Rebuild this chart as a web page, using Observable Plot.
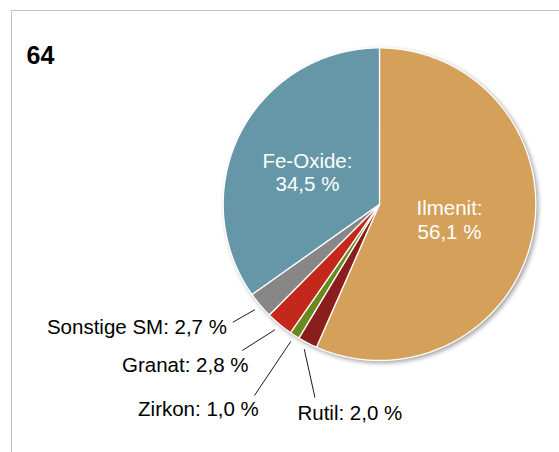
<!DOCTYPE html>
<html>
<head>
<meta charset="utf-8">
<script src="https://cdn.jsdelivr.net/npm/d3@7"></script>
<script src="https://cdn.jsdelivr.net/npm/@observablehq/plot@0.6"></script>
<style>
  html, body { margin: 0; padding: 0; background: #fff; }
  #wrap { position: relative; width: 559px; height: 452px; overflow: hidden; }
  #frame { position: absolute; left: 11px; top: 10px; width: 600px; height: 500px;
           border-top: 1.5px solid #c3c3c3; border-left: 1.5px solid #c3c3c3; }
  #chart { position: absolute; left: 0; top: 0; }
</style>
</head>
<body>
<div id="wrap"><div id="frame"></div><div id="chart"></div></div>
<script>
// ---- data ----
const chartTitle = "64";
const minerals = ["Ilmenit", "Rutil", "Zirkon", "Granat", "Sonstige SM", "Fe-Oxide"];
const shares = [56.1, 2.0, 1.0, 2.8, 2.7, 34.5];
const sliceColors = ["#d4a05a", "#8a1e1c", "#6b8a1e", "#c4281a", "#878787", "#6597a8"];
const insideLabels = ["Ilmenit", "Fe-Oxide"];

// ---- label layout (unit-circle coordinates, radius = 1) ----
const labelPos = {
  "Ilmenit":     {x: 0.448,  y: -0.098},
  "Fe-Oxide":    {x: -0.461, y: 0.204},
  "Sonstige SM": {x: -0.976, y: -0.789, anchor: "end",   lx: -0.938, ly: -0.755},
  "Granat":      {x: -0.838, y: -1.032, anchor: "end",   lx: -0.878, ly: -0.936},
  "Zirkon":      {x: -0.772, y: -1.310, anchor: "end",   lx: -0.800, ly: -1.224},
  "Rutil":       {x: -0.525, y: -1.339, anchor: "start", lx: -0.413, ly: -1.237}
};

const fmt = v => v.toFixed(1).replace(".", ",") + " %";
const total = d3.sum(shares);
let cum = 0;
const slices = minerals.map((name, i) => {
  const a0 = cum / total * 2 * Math.PI;
  cum += shares[i];
  const a1 = cum / total * 2 * Math.PI;
  return {name, value: shares[i], a0, a1, mid: (a0 + a1) / 2};
});

// polygon points of each slice (angle measured clockwise from 12 o'clock)
const pts = [];
for (const s of slices) {
  pts.push({name: s.name, x: 0, y: 0});
  const n = Math.max(2, Math.ceil((s.a1 - s.a0) / (Math.PI / 720)));
  for (let k = 0; k <= n; k++) {
    const a = s.a0 + (s.a1 - s.a0) * k / n;
    pts.push({name: s.name, x: Math.sin(a), y: Math.cos(a)});
  }
  pts.push({name: s.name, x: 0, y: 0});
}

const inside = slices.filter(s => insideLabels.includes(s.name)).map(s => ({
  ...s, lx: labelPos[s.name].x, ly: labelPos[s.name].y,
  text: s.name + ":\n" + fmt(s.value)
}));
const outside = slices.filter(s => !insideLabels.includes(s.name)).map(s => {
  const p = labelPos[s.name];
  return {...s, tx: p.x, ty: p.y, anchor: p.anchor,
    x1: 1.045 * Math.sin(s.mid), y1: 1.045 * Math.cos(s.mid), x2: p.lx, y2: p.ly,
    text: s.name + ": " + fmt(s.value)};
});

const cx = 379, cy = 203.7, R = 156.3;
const font = "'Liberation Sans', Arial, Helvetica, sans-serif";

const plot = Plot.plot({
  width: 559,
  height: 452,
  margin: 0,
  style: {background: "transparent", fontFamily: font, overflow: "visible"},
  x: {domain: [-1, 1], range: [cx - R, cx + R], axis: null},
  y: {domain: [-1, 1], range: [cy + R, cy - R], axis: null},
  color: {domain: minerals, range: sliceColors},
  marks: [
    Plot.line(pts, {x: "x", y: "y", z: "name", fill: "name", stroke: "white",
      strokeWidth: 1.3, strokeLinejoin: "round", curve: "linear"}),
    Plot.link(outside, {x1: "x1", y1: "y1", x2: "x2", y2: "y2", stroke: "#000", strokeWidth: 0.9}),
    Plot.text(inside, {x: "lx", y: "ly", text: "text", fill: "white", fontSize: 20.5,
      lineHeight: 1.14, textAnchor: "middle"}),
    Plot.text(outside.filter(d => d.anchor === "end"), {x: "tx", y: "ty", text: "text",
      fill: "#000", fontSize: 20.5, textAnchor: "end"}),
    Plot.text(outside.filter(d => d.anchor === "start"), {x: "tx", y: "ty", text: "text",
      fill: "#000", fontSize: 20.5, textAnchor: "start"}),
    Plot.text([chartTitle], {frameAnchor: "top-left", dx: 26, dy: 46, lineAnchor: "top",
      textAnchor: "start", fontSize: 25, fontWeight: "bold", fill: "#000"})
  ]
});

d3.select(plot).select('g[aria-label="line"]')
  .style("filter", "drop-shadow(2px 2px 2px rgba(0,0,0,0.35))");

document.getElementById("chart").appendChild(plot);
</script>
</body>
</html>
